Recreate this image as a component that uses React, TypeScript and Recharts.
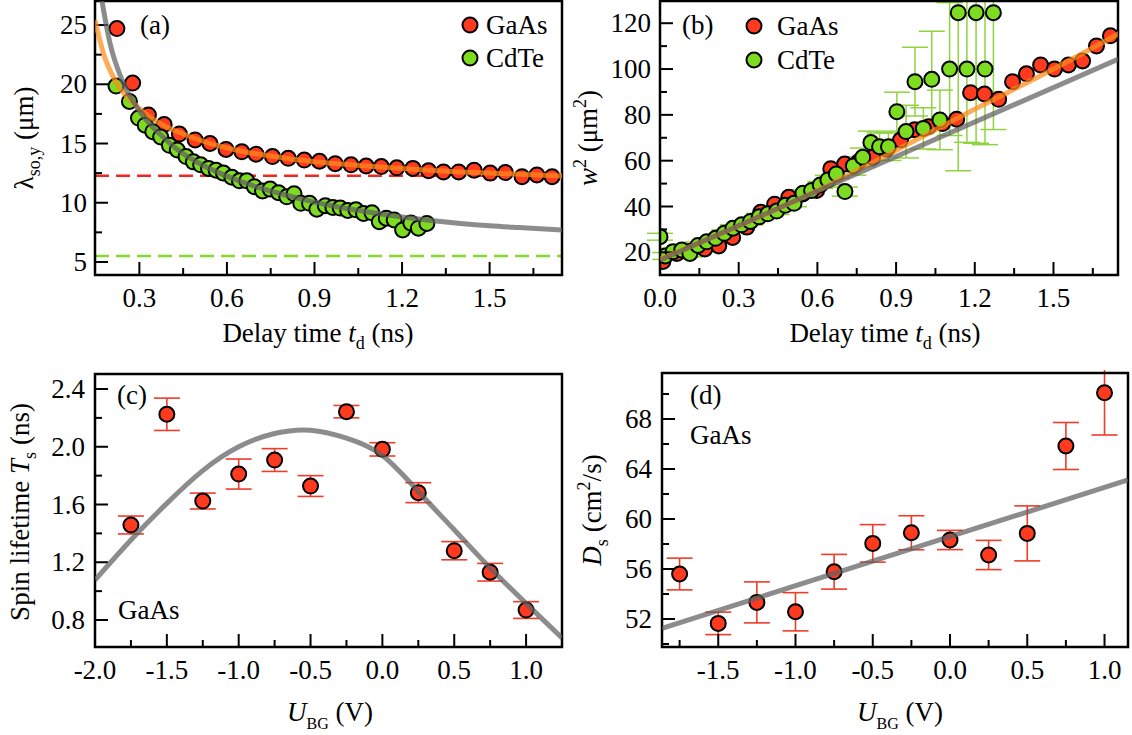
import React from 'react';
import { ComposedChart, Scatter, Line, XAxis, YAxis, ErrorBar, ReferenceLine, ReferenceArea } from 'recharts';

const SERIF = '"Liberation Serif", "Times New Roman", serif';
const FS = 27;
const RED = '#ff3a1f';
const GREEN = '#7ddc1f';
const ORANGE = '#ff8c1a';
const GRAY = '#5f5f5f';

// (a) spin-orbit length vs delay time
const gaasDelayA = [0.223, 0.277, 0.331, 0.385, 0.437, 0.491, 0.542, 0.597, 0.651, 0.7, 0.756, 0.81, 0.865, 0.917, 0.971, 1.025, 1.077, 1.129, 1.182, 1.237, 1.291, 1.342, 1.394, 1.447, 1.502, 1.554, 1.611, 1.662, 1.714];
const gaasLambda = [24.7, 20.1, 17.4, 16.6, 15.8, 15.3, 15.0, 14.5, 14.3, 14.1, 13.9, 13.75, 13.6, 13.5, 13.3, 13.2, 13.1, 13.05, 12.95, 12.9, 12.7, 12.6, 12.6, 12.75, 12.5, 12.55, 12.2, 12.35, 12.2];
const cdteDelayA = [0.22, 0.266, 0.297, 0.32, 0.346, 0.373, 0.403, 0.43, 0.46, 0.485, 0.51, 0.537, 0.563, 0.588, 0.617, 0.643, 0.668, 0.694, 0.722, 0.748, 0.777, 0.805, 0.83, 0.853, 0.883, 0.908, 0.937, 0.963, 0.988, 1.014, 1.042, 1.068, 1.097, 1.122, 1.146, 1.173, 1.202, 1.23, 1.256, 1.285];
const cdteLambda = [19.85, 18.55, 17.15, 16.55, 16.0, 15.55, 14.85, 14.45, 13.9, 13.45, 13.2, 12.9, 12.75, 12.5, 12.15, 11.85, 11.85, 11.35, 11.0, 11.15, 10.85, 10.5, 10.75, 9.95, 9.95, 9.45, 9.75, 9.6, 9.55, 9.35, 9.4, 9.1, 9.15, 8.4, 8.7, 8.55, 7.7, 8.3, 7.85, 8.25];
const gaasFitADelay = [0.148, 0.177, 0.222, 0.28, 0.36, 0.45, 0.55, 0.65, 0.75, 0.85, 0.95, 1.1, 1.25, 1.4, 1.55, 1.75];
const gaasFitALambda = [25.4, 22.6, 20.1, 18.4, 16.85, 15.8, 14.95, 14.35, 13.95, 13.6, 13.35, 13.05, 12.8, 12.6, 12.45, 12.25];
const cdteFitADelay = [0.165, 0.2, 0.24, 0.28, 0.32, 0.37, 0.43, 0.5, 0.6, 0.7, 0.8, 0.9, 1.0, 1.1, 1.2, 1.3, 1.4, 1.5, 1.6, 1.75];
const cdteFitALambda = [28.0, 23.4, 20.4, 18.5, 17.1, 15.8, 14.5, 13.4, 12.25, 11.35, 10.65, 10.05, 9.55, 9.15, 8.8, 8.5, 8.25, 8.05, 7.9, 7.7];
const gaasLimit = 12.28;
const cdteLimit = 5.5;

// (b) squared spot width vs delay time
const gaasDelayB = [0.011, 0.064, 0.117, 0.171, 0.224, 0.277, 0.331, 0.384, 0.437, 0.491, 0.544, 0.597, 0.651, 0.704, 0.757, 0.811, 0.864, 0.917, 0.971, 1.024, 1.077, 1.131, 1.184, 1.237, 1.291, 1.344, 1.397, 1.451, 1.504, 1.557, 1.611, 1.664, 1.717];
const gaasWidth = [16, 19.5, 20.5, 21.5, 22.8, 26.5, 31, 37.5, 41, 44, 45.5, 47, 56.5, 58.5, 59.5, 61.5, 65, 69, 73.5, 74.8, 76.2, 78.1, 89.7, 89.1, 86.8, 94.5, 97.9, 101.8, 100, 101.8, 103.5, 110.1, 114.5];
const cdteDelayB = [0.0, 0.02, 0.05, 0.083, 0.114, 0.145, 0.178, 0.212, 0.245, 0.278, 0.311, 0.345, 0.378, 0.411, 0.445, 0.478, 0.511, 0.545, 0.578, 0.611, 0.64, 0.672, 0.705, 0.737, 0.773, 0.804, 0.837, 0.871, 0.903, 0.938, 0.972, 1.004, 1.036, 1.067, 1.104, 1.137, 1.17, 1.205, 1.239, 1.271];
const cdteWidth = [26.8, 18.4, 20.3, 21.0, 19.5, 23.0, 24.6, 26.1, 28.3, 30.5, 32.0, 33.5, 35.5, 36.8, 38.0, 40.5, 41.4, 45.8, 47.0, 49.4, 51.6, 54.2, 46.5, 57.7, 61.5, 67.9, 66.1, 66.1, 81.4, 72.7, 94.5, 74.1, 95.5, 77.8, 100.0, 124.6, 100.0, 124.6, 100.0, 124.6];
const cdteWidthErr = [1.5, 1.5, 1.5, 1.5, 1.5, 1.5, 1.5, 1.5, 1.5, 1.5, 1.5, 1.5, 1.5, 1.5, 1.5, 1.5, 1.5, 1.5, 1.5, 1.5, 2, 2, 2, 4, 4, 5, 6, 6, 8.5, 11.5, 15, 9, 21, 13, 29, 69, 32, 57, 33, 51];
const gaasFitBDelay = [0, 0.3, 0.6, 0.9, 1.2, 1.5, 1.75];
const gaasFitBWidth = [17, 31.5, 47, 64.5, 82.5, 100, 115.5];
const cdteFitBDelay = [0, 1.75];
const cdteFitBWidth = [16.6, 104.5];

// (c), (d) back-gate voltage series (GaAs)
const gateVoltage = [-1.75, -1.5, -1.25, -1.0, -0.75, -0.5, -0.25, 0, 0.25, 0.5, 0.75, 1.0];
const spinLifetime = [1.458, 2.225, 1.624, 1.811, 1.908, 1.728, 2.243, 1.982, 1.682, 1.28, 1.131, 0.869];
const spinLifetimeErr = [0.062, 0.112, 0.055, 0.104, 0.079, 0.072, 0.043, 0.046, 0.069, 0.063, 0.061, 0.058];
const lifetimeFitV = [-2.0, -1.75, -1.5, -1.25, -1.0, -0.75, -0.5, -0.25, 0, 0.25, 0.5, 0.75, 1.0, 1.25];
const lifetimeFitT = [1.077, 1.354, 1.608, 1.835, 2.0, 2.092, 2.115, 2.06, 1.94, 1.69, 1.425, 1.16, 0.915, 0.675];
const diffusion = [55.6, 51.65, 53.33, 52.58, 55.78, 58.05, 58.9, 58.32, 57.12, 58.85, 65.84, 70.1];
const diffusionErr = [1.27, 0.9, 1.64, 1.53, 1.39, 1.5, 1.36, 0.77, 1.17, 2.2, 1.88, 3.38];
const diffusionFitV = [-1.864, 1.152];
const diffusionFitD = [51.26, 63.12];

type Pt = { x: number; y: number; err?: number };
const zip = (xs: number[], ys: number[], es?: number[]): Pt[] =>
  xs.map((x, i) => ({ x, y: ys[i], err: es ? es[i] : undefined }));

const near = (list: number[], v: number) => list.some((m) => Math.abs(m - v) < 1e-6);

function bottomTick(major: number[], fmt: (v: number) => string) {
  return (p: any) => {
    const v = p.payload.value;
    const big = near(major, v);
    return (
      <g>
        <line x1={p.x} x2={p.x} y1={p.y} y2={p.y - (big ? 13 : 7)} stroke="#000" strokeWidth={2} />
        {big && (
          <text x={p.x} y={p.y + 32} textAnchor="middle" fontFamily={SERIF} fontSize={FS} fill="#000">
            {fmt(v)}
          </text>
        )}
      </g>
    );
  };
}

function leftTick(major: number[], fmt: (v: number) => string, gap: number) {
  return (p: any) => {
    const v = p.payload.value;
    const big = near(major, v);
    return (
      <g>
        <line x1={p.x} x2={p.x + (big ? 13 : 7)} y1={p.y} y2={p.y} stroke="#000" strokeWidth={2} />
        {big && (
          <text x={p.x - gap} y={p.y + 9} textAnchor="end" fontFamily={SERIF} fontSize={FS} fill="#000">
            {fmt(v)}
          </text>
        )}
      </g>
    );
  };
}

const dot = (fill: string) => (p: any) => (
  <circle cx={p.cx} cy={p.cy} r={7.5} fill={fill} stroke="#000" strokeWidth={2} />
);

type PanelProps = {
  box: [number, number, number, number];
  plot: [number, number, number, number];
  xDomain: [number, number];
  yDomain: [number, number];
  xMajor: number[];
  xMinor: number[];
  yMajor: number[];
  yMinor: number[];
  xFmt: (v: number) => string;
  yFmt: (v: number) => string;
  yGap: number;
  children: React.ReactNode;
  fits: React.ReactNode;
};

// Two stacked charts share one geometry: markers below, fitted curves and frame above.
function Panel({ box, plot, xDomain, yDomain, xMajor, xMinor, yMajor, yMinor, xFmt, yFmt, yGap, children, fits }: PanelProps) {
  const [bx, by, bw, bh] = box;
  const [px0, py0, px1, py1] = plot;
  const yW = 60;
  const xH = 60;
  const margin = { left: px0 - bx - yW, top: py0 - by, right: bx + bw - px1, bottom: by + bh - py1 - xH };
  const xTicks = [...xMajor, ...xMinor].sort((a, b) => a - b);
  const yTicks = [...yMajor, ...yMinor].sort((a, b) => a - b);
  const axes = (withTicks: boolean) => [
    <XAxis
      key="x" dataKey="x" type="number" domain={xDomain} allowDataOverflow ticks={xTicks} interval={0}
      axisLine={false} tickLine={false} tickSize={0} tickMargin={0} height={xH}
      tick={withTicks ? bottomTick(xMajor, xFmt) : false}
    />,
    <YAxis
      key="y" dataKey="y" type="number" domain={yDomain} allowDataOverflow ticks={yTicks} interval={0}
      axisLine={false} tickLine={false} tickSize={0} tickMargin={0} width={yW}
      tick={withTicks ? leftTick(yMajor, yFmt, yGap) : false}
    />,
  ];
  return (
    <>
      <div style={{ position: 'absolute', left: bx, top: by, width: bw, height: bh }}>
        <ComposedChart width={bw} height={bh} margin={margin}>
          {axes(true)}
          {children}
        </ComposedChart>
      </div>
      <div style={{ position: 'absolute', left: bx, top: by, width: bw, height: bh }}>
        <ComposedChart width={bw} height={bh} margin={margin}>
          {axes(false)}
          {fits}
          <ReferenceArea
            x1={xDomain[0]} x2={xDomain[1]} y1={yDomain[0]} y2={yDomain[1]}
            fill="none" fillOpacity={0} stroke="#000" strokeWidth={2.5} ifOverflow="visible"
          />
        </ComposedChart>
      </div>
    </>
  );
}

const f1 = (v: number) => v.toFixed(1);
const f0 = (v: number) => v.toFixed(0);

const txt = { fontFamily: SERIF, fontSize: FS, fill: '#000' } as const;

function Annotations() {
  return (
    <svg width={1132} height={735} style={{ position: 'absolute', left: 0, top: 0, pointerEvents: 'none' }}>
      {/* panel tags */}
      <text {...txt} x={140} y={34}>(a)</text>
      <text {...txt} x={682} y={34}>(b)</text>
      <text {...txt} x={117} y={404}>(c)</text>
      <text {...txt} x={690} y={404}>(d)</text>
      <text {...txt} x={118} y={619}>GaAs</text>
      <text {...txt} x={690} y={444}>GaAs</text>

      {/* legends */}
      <circle cx={470} cy={25} r={7.5} fill={RED} stroke="#000" strokeWidth={2} />
      <text {...txt} x={486} y={34}>GaAs</text>
      <circle cx={470} cy={58} r={7.5} fill={GREEN} stroke="#000" strokeWidth={2} />
      <text {...txt} x={486} y={67}>CdTe</text>
      <circle cx={754} cy={26} r={7.5} fill={RED} stroke="#000" strokeWidth={2} />
      <text {...txt} x={777} y={35}>GaAs</text>
      <circle cx={754} cy={60} r={7.5} fill={GREEN} stroke="#000" strokeWidth={2} />
      <text {...txt} x={777} y={69}>CdTe</text>

      {/* x titles */}
      <text {...txt} x={318} y={342} textAnchor="middle">
        Delay time <tspan fontStyle="italic">t</tspan>
        <tspan fontSize={18} dy={7}>d</tspan>
        <tspan dy={-7}> (ns)</tspan>
      </text>
      <text {...txt} x={885} y={342} textAnchor="middle">
        Delay time <tspan fontStyle="italic">t</tspan>
        <tspan fontSize={18} dy={7}>d</tspan>
        <tspan dy={-7}> (ns)</tspan>
      </text>
      <text {...txt} x={330} y={721} textAnchor="middle">
        <tspan fontStyle="italic">U</tspan>
        <tspan fontSize={16} dy={8}>BG</tspan>
        <tspan dy={-8}> (V)</tspan>
      </text>
      <text {...txt} x={900} y={721} textAnchor="middle">
        <tspan fontStyle="italic">U</tspan>
        <tspan fontSize={16} dy={8}>BG</tspan>
        <tspan dy={-8}> (V)</tspan>
      </text>

      {/* y titles */}
      <text {...txt} transform="translate(33,138) rotate(-90)" textAnchor="middle">
        λ<tspan fontSize={18} dy={7}>so,y</tspan>
        <tspan dy={-7}> (μm)</tspan>
      </text>
      <text {...txt} transform="translate(597,138) rotate(-90)" textAnchor="middle">
        <tspan fontStyle="italic">w</tspan>
        <tspan fontSize={18} dy={-11}>2</tspan>
        <tspan dy={11}> (μm</tspan>
        <tspan fontSize={18} dy={-11}>2</tspan>
        <tspan dy={11}>)</tspan>
      </text>
      <text {...txt} transform="translate(29,512) rotate(-90)" textAnchor="middle">
        Spin lifetime <tspan fontStyle="italic">T</tspan>
        <tspan fontSize={18} dy={7}>s</tspan>
        <tspan dy={-7}> (ns)</tspan>
      </text>
      <text {...txt} transform="translate(601,510) rotate(-90)" textAnchor="middle">
        <tspan fontStyle="italic">D</tspan>
        <tspan fontSize={18} dy={7}>s</tspan>
        <tspan dy={-7}> (cm</tspan>
        <tspan fontSize={18} dy={-11}>2</tspan>
        <tspan dy={11}>/s)</tspan>
      </text>
    </svg>
  );
}

const fitLine = (data: Pt[], color: string, curve: 'monotone' | 'linear' | 'natural') => (
  <Line
    data={data} dataKey="y" type={curve} stroke={color} strokeWidth={5} strokeOpacity={0.72}
    dot={false} activeDot={false} isAnimationActive={false}
  />
);

export default function App() {
  const gaasA = zip(gaasDelayA, gaasLambda);
  const cdteA = zip(cdteDelayA, cdteLambda);
  const gaasFitA = zip(gaasFitADelay, gaasFitALambda);
  const cdteFitA = zip(cdteFitADelay, cdteFitALambda);
  const gaasB = zip(gaasDelayB, gaasWidth);
  const cdteB = zip(cdteDelayB, cdteWidth, cdteWidthErr);
  const gaasFitB = zip(gaasFitBDelay, gaasFitBWidth);
  const cdteFitB = zip(cdteFitBDelay, cdteFitBWidth);
  const lifetime = zip(gateVoltage, spinLifetime, spinLifetimeErr);
  const lifetimeFit = zip(lifetimeFitV, lifetimeFitT);
  const diff = zip(gateVoltage, diffusion, diffusionErr);
  const diffFit = zip(diffusionFitV, diffusionFitD);

  return (
    <div style={{ position: 'absolute', left: 0, top: 0, width: 1132, height: 735, background: '#fff', overflow: 'hidden' }}>
      {/* (a) */}
      <Panel
        box={[0, 0, 580, 370]} plot={[95, 1, 562, 275]}
        xDomain={[0.148, 1.748]} yDomain={[3.9, 27.03]}
        xMajor={[0.3, 0.6, 0.9, 1.2, 1.5]} xMinor={[0.45, 0.75, 1.05, 1.35, 1.65]}
        yMajor={[5, 10, 15, 20, 25]} yMinor={[7.5, 12.5, 17.5, 22.5]}
        xFmt={f1} yFmt={f0} yGap={8}
        fits={[
          <React.Fragment key="o">{fitLine(gaasFitA, ORANGE, 'monotone')}</React.Fragment>,
          <React.Fragment key="g">{fitLine(cdteFitA, GRAY, 'monotone')}</React.Fragment>,
        ]}
      >
        <ReferenceLine y={gaasLimit} stroke="#f0281e" strokeWidth={2.5} strokeDasharray="14 7" ifOverflow="visible" />
        <ReferenceLine y={cdteLimit} stroke="#84d92a" strokeWidth={2.5} strokeDasharray="14 7" ifOverflow="visible" />
        <Scatter data={gaasA} fill={RED} shape={dot(RED)} isAnimationActive={false} />
        <Scatter data={cdteA} fill={GREEN} shape={dot(GREEN)} isAnimationActive={false} />
      </Panel>

      {/* (b) */}
      <Panel
        box={[580, 0, 552, 370]} plot={[660, 1, 1118, 275]}
        xDomain={[0, 1.746]} yDomain={[10.1, 129.7]}
        xMajor={[0, 0.3, 0.6, 0.9, 1.2, 1.5]} xMinor={[0.15, 0.45, 0.75, 1.05, 1.35, 1.65]}
        yMajor={[20, 40, 60, 80, 100, 120]} yMinor={[30, 50, 70, 90, 110]}
        xFmt={f1} yFmt={f0} yGap={9}
        fits={[
          <React.Fragment key="o">{fitLine(gaasFitB, ORANGE, 'monotone')}</React.Fragment>,
          <React.Fragment key="g">{fitLine(cdteFitB, GRAY, 'linear')}</React.Fragment>,
        ]}
      >
        <Scatter data={gaasB} fill={RED} shape={dot(RED)} isAnimationActive={false} />
        <Scatter data={cdteB} fill={GREEN} shape={dot(GREEN)} isAnimationActive={false}>
          <ErrorBar dataKey="err" direction="y" width={13} stroke="#8fd43f" strokeWidth={1.5} />
        </Scatter>
      </Panel>

      {/* (c) */}
      <Panel
        box={[0, 370, 580, 365]} plot={[95, 374, 562, 647]}
        xDomain={[-2.0, 1.25]} yDomain={[0.613, 2.504]}
        xMajor={[-2, -1.5, -1, -0.5, 0, 0.5, 1]} xMinor={[-1.75, -1.25, -0.75, -0.25, 0.25, 0.75]}
        yMajor={[0.8, 1.2, 1.6, 2.0, 2.4]} yMinor={[1.0, 1.4, 1.8, 2.2]}
        xFmt={f1} yFmt={f1} yGap={10}
        fits={fitLine(lifetimeFit, GRAY, 'natural')}
      >
        <Scatter data={lifetime} fill={RED} shape={dot(RED)} isAnimationActive={false}>
          <ErrorBar dataKey="err" direction="y" width={13} stroke="#f03c28" strokeWidth={1.6} />
        </Scatter>
      </Panel>

      {/* (d) */}
      <Panel
        box={[580, 370, 552, 365]} plot={[662, 373, 1128, 647]}
        xDomain={[-1.864, 1.152]} yDomain={[49.76, 71.68]}
        xMajor={[-1.5, -1, -0.5, 0, 0.5, 1]} xMinor={[-1.75, -1.25, -0.75, -0.25, 0.25, 0.75]}
        yMajor={[52, 56, 60, 64, 68]} yMinor={[50, 54, 58, 62, 66, 70]}
        xFmt={f1} yFmt={f0} yGap={10}
        fits={fitLine(diffFit, GRAY, 'linear')}
      >
        <Scatter data={diff} fill={RED} shape={dot(RED)} isAnimationActive={false}>
          <ErrorBar dataKey="err" direction="y" width={13} stroke="#f03c28" strokeWidth={1.6} />
        </Scatter>
      </Panel>

      <Annotations />
    </div>
  );
}
